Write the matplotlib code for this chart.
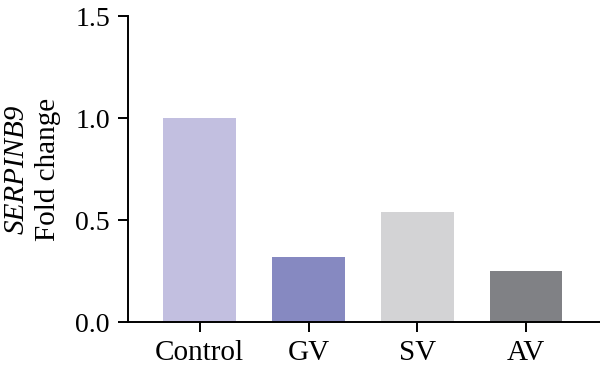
import matplotlib
matplotlib.use("Agg")
import matplotlib.pyplot as plt

categories = ["Control", "GV", "SV", "AV"]
fold_change = [1.0, 0.32, 0.54, 0.25]
bar_colors = ["#C2BFE0", "#8689C1", "#D3D3D5", "#808185"]
y_ticks = [0.0, 0.5, 1.0, 1.5]

plt.rcParams["font.family"] = ["Liberation Serif", "DejaVu Serif"]

fig = plt.figure(figsize=(6, 3.73), dpi=100)
ax = fig.add_axes([0.2133, 0.1367, 0.7867, 0.8203])

x = range(len(categories))
ax.bar(x, fold_change, width=0.67, color=bar_colors)

ax.set_xlim(-0.66, 3.68)
ax.set_ylim(0, 1.5)
ax.set_yticks(y_ticks)
ax.set_yticklabels([f"{v:.1f}" for v in y_ticks])
ax.set_xticks(list(x))
ax.set_xticklabels(categories)

for side in ["top", "right"]:
    ax.spines[side].set_visible(False)
for side in ["left", "bottom"]:
    ax.spines[side].set_linewidth(1.4)
ax.tick_params(axis="y", direction="out", length=7, width=1.4,
               labelsize=20, pad=6)
ax.tick_params(axis="x", direction="out", length=7, width=1.4,
               labelsize=21, pad=6)

# two-line y label, first line italic
fig.text(0.027, 0.547, "SERPINB9", rotation=90, fontsize=21,
         style="italic", ha="center", va="center")
fig.text(0.08, 0.547, "Fold change", rotation=90, fontsize=21,
         ha="center", va="center")

fig.savefig("out.png", dpi=100)
